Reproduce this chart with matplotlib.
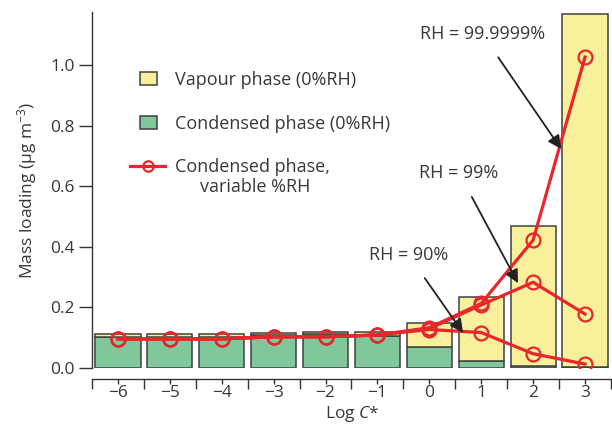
import matplotlib
matplotlib.use("Agg")
import matplotlib.pyplot as plt
from matplotlib.patches import Rectangle
from matplotlib.legend_handler import HandlerPatch
import numpy as np

plt.rcParams['font.family'] = ['Open Sans', 'DejaVu Sans']
plt.rcParams['mathtext.fontset'] = 'custom'
plt.rcParams['mathtext.rm'] = 'Open Sans'
plt.rcParams['mathtext.it'] = 'Open Sans:italic'

log_c = [-6, -5, -4, -3, -2, -1, 0, 1, 2, 3]
condensed = [0.103, 0.103, 0.103, 0.109, 0.111, 0.107, 0.070, 0.022, 0.006, 0.002]
vapour = [0.008, 0.008, 0.008, 0.005, 0.007, 0.013, 0.078, 0.212, 0.463, 1.168]
rh90 = [0.096, 0.096, 0.096, 0.103, 0.103, 0.109, 0.127, 0.117, 0.047, 0.013]
rh99 = [0.096, 0.096, 0.096, 0.103, 0.103, 0.109, 0.130, 0.208, 0.283, 0.178]
rh999999 = [0.096, 0.096, 0.096, 0.103, 0.103, 0.109, 0.133, 0.213, 0.422, 1.026]

green = '#80c79b'
yellow = '#f9f09c'
red = '#e8262b'
edge = '#404040'
txt = '#383838'

fig = plt.figure(figsize=(6.12, 4.26), dpi=100)
ax = fig.add_axes([92/612, 1-368/426, 1-92/612, (368-12)/426])

b_cond = ax.bar(log_c, condensed, width=0.87, color=green, edgecolor=edge, linewidth=1.1,
                label='Condensed phase (0%RH)', zorder=2)
b_vap = ax.bar(log_c, vapour, width=0.87, bottom=condensed, color=yellow, edgecolor=edge,
               linewidth=1.1, label='Vapour phase (0%RH)', zorder=2)

for series in (rh90, rh99, rh999999):
    ln, = ax.plot(log_c, series, color=red, lw=2.3, marker='o', ms=10,
                  mfc='none', mec=red, mew=1.6, zorder=3)

ax.set_xlim(-6.5, 3.52)
ax.set_ylim(0, 1.175)

ax.spines['top'].set_visible(False)
ax.spines['right'].set_visible(False)
ax.spines['bottom'].set_position(('outward', 8))
for s in ('left', 'bottom'):
    ax.spines[s].set_color('#333333')
    ax.spines[s].set_linewidth(1.0)

ax.set_yticks([0.0, 0.2, 0.4, 0.6, 0.8, 1.0])
ax.set_yticklabels(['0.0', '0.2', '0.4', '0.6', '0.8', '1.0'])
ax.set_xticks(log_c)
ax.set_xticklabels(['\u22126', '\u22125', '\u22124', '\u22123', '\u22122', '\u22121',
                    '0', '1', '2', '3'])
ax.set_xticks(np.arange(-6.5, 3.6, 1.0), minor=True)
ax.tick_params(axis='y', direction='out', length=9.5, width=1, color='#333333',
               labelsize=12.5, labelcolor=txt, pad=3)
ax.tick_params(axis='x', which='major', direction='out', length=3.3, width=1,
               color='#333333', labelsize=12.5, labelcolor=txt, pad=1)
ax.tick_params(axis='x', which='minor', direction='out', length=7, width=1,
               color='#333333')

ax.set_ylabel('Mass loading (\u03bcg m$^{\u22123}$)', fontsize=12.5, color=txt, labelpad=8)
ax.set_xlabel('Log $C$*', fontsize=12.5, color=txt, labelpad=2)


def small_rect(legend, orig_handle, xdescent, ydescent, width, height, fontsize):
    return Rectangle((-xdescent + 0.28 * width, -ydescent), 0.5 * width, height)


leg = ax.legend([b_vap.patches[0], b_cond.patches[0], ln],
                ['Vapour phase (0%RH)', 'Condensed phase (0%RH)', 'Condensed phase,'],
                loc='upper left', bbox_to_anchor=(0.073, 0.835), frameon=False,
                fontsize=13, labelspacing=1.43, handlelength=1.95, handletextpad=0.55,
                borderpad=0, borderaxespad=0, labelcolor=txt,
                handler_map={Rectangle: HandlerPatch(patch_func=small_rect)})
leg.legend_handles[2].set_markersize(7.5)
ax.annotate('variable %RH', xy=(0.5, 0.0), xycoords=leg.get_texts()[2],
            xytext=(2, -1), textcoords='offset points', ha='center', va='top',
            fontsize=13, color=txt, zorder=7)

arrow = dict(arrowstyle='-|>', color='#222222', lw=1.3, mutation_scale=20,
             shrinkA=10, shrinkB=0)
ax.annotate('RH = 99.9999%', xy=(2.54, 0.723), xytext=(1.02, 1.102),
            ha='center', va='center', fontsize=13, color=txt, arrowprops=arrow, zorder=5)
ax.annotate('RH = 99%', xy=(1.71, 0.28), xytext=(0.57, 0.644),
            ha='center', va='center', fontsize=13, color=txt, arrowprops=arrow, zorder=5)
ax.annotate('RH = 90%', xy=(0.65, 0.116), xytext=(-0.40, 0.373),
            ha='center', va='center', fontsize=13, color=txt, arrowprops=arrow, zorder=5)

fig.canvas.draw()
fig.savefig('out.png', dpi=100)
